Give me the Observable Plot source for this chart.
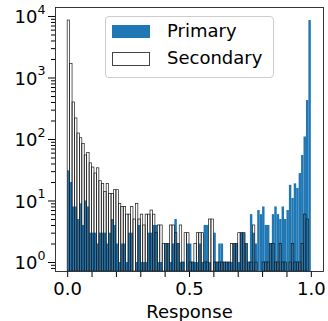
<!DOCTYPE html>
<html>
<head>
<meta charset="utf-8">
<script src="https://cdn.jsdelivr.net/npm/d3@7"></script>
<script src="https://cdn.jsdelivr.net/npm/@observablehq/plot@0.6"></script>
<style>
  html, body { margin: 0; padding: 0; background: #fff; }
  #wrap { position: relative; width: 328px; height: 321px; font-family: "DejaVu Sans", sans-serif; }
  #legend { position: absolute; left: 105px; top: 16px; width: 167px; height: 60px;
    border: 1px solid #cccccc; border-radius: 4px; background: rgba(255,255,255,0.85); }
  .item { position: absolute; left: 6px; height: 14px; font-size: 18px; }
  .patch { position: absolute; left: 0; width: 38px; height: 13px; box-sizing: border-box; }
  .lbl { position: absolute; left: 55px; top: -5px; white-space: nowrap; color: #000; }
</style>
</head>
<body>
<div id="wrap"></div>
<script>
// Histogram bins: 100 bins over [0, 1]
const binCount = 100;
const primaryCounts = [
  31, 20, 8, 8, 5, 9, 4, 10, 8, 3,
  3, 3, 2, 3, 3, 3, 2, 3, 5, 4,
  2, 1, 2, 2, 1, 3, 3, 0, 1, 4,
  1, 1, 1, 3, 3, 4, 4, 1, 1, 0,
  2, 2, 1, 2, 5, 2, 1, 1, 0, 2,
  2, 1, 1, 1, 2, 1, 4, 4, 1, 0,
  3, 1, 2, 2, 1, 1, 1, 1, 2, 2,
  1, 3, 3, 2, 1, 6, 3, 2, 7, 6,
  8, 4, 4, 2, 6, 8, 6, 5, 8, 5,
  7, 18, 11, 19, 16, 28, 55, 110, 430, 8600
];
const secondaryCounts = [
  8600, 1700, 400, 220, 125, 105, 85, 55, 60, 41,
  35, 28, 34, 21, 19, 14, 19, 13, 13, 15,
  15, 9, 8, 8, 6, 6, 8, 5, 9, 5,
  6, 4, 6, 6, 7, 6, 3, 4, 4, 2,
  2, 2, 4, 4, 3, 2, 4, 1, 3, 3,
  1, 1, 2, 3, 3, 3, 1, 1, 5, 5,
  1, 1, 1, 1, 1, 1, 1, 2, 2, 2,
  3, 3, 3, 2, 1, 1, 4, 1, 0, 0,
  1, 1, 1, 2, 2, 1, 1, 2, 1, 1,
  0, 1, 2, 1, 1, 1, 2, 6, 5, 0
];
const seriesNames = ["Primary", "Secondary"];
const xTickValues = [0, 0.1, 0.2, 0.3, 0.4, 0.5, 0.6, 0.7, 0.8, 0.9, 1.0];
const xTickLabels = {0: "0.0", 0.5: "0.5", 1: "1.0"};
const yDecades = [1, 10, 100, 1000, 10000];
const yExponents = ["0", "1", "2", "3", "4"];

const yMin = 0.714, yMax = 14000;
const toRows = (counts, series) => counts.map((c, i) => ({
  x1: i / binCount, x2: (i + 1) / binCount, count: c, series
})).filter(d => d.count > 0);
const primaryRows = toRows(primaryCounts, seriesNames[0]);
const secondaryRows = toRows(secondaryCounts, seriesNames[1]);

const minorTicks = [];
for (const d of [0.1, 1, 10, 100, 1000, 10000]) for (let k = 2; k <= 9; k++) {
  const v = d * k; if (v > yMin && v < yMax) minorTicks.push(v);
}
const decadeRows = yDecades.map((v, i) => ({v, e: yExponents[i]}));

const chart = Plot.plot({
  width: 328, height: 321,
  marginLeft: 55, marginRight: 5, marginTop: 7, marginBottom: 50,
  style: {fontFamily: "DejaVu Sans, sans-serif", fontSize: "18px", background: "#fff", overflow: "visible"},
  x: {domain: [-0.05, 1.05]},
  y: {type: "log", domain: [yMin, yMax]},
  marks: [
    Plot.rectY(primaryRows, {x1: "x1", x2: "x2", y1: yMin, y2: "count", fill: "#1f77b4", clip: true}),
    Plot.rectY(secondaryRows, {x1: "x1", x2: "x2", y1: yMin, y2: "count", fill: "none", stroke: "#1a1a1a", strokeWidth: 0.7, clip: true}),
    Plot.axisX({ticks: xTickValues, tickSize: 6, tickPadding: 5, tickFormat: d => xTickLabels[Math.round(d * 10) / 10] ?? "", label: null, fontSize: 18}),
    Plot.axisY({ticks: yDecades, tickSize: 7, tickFormat: () => "", label: null}),
    Plot.axisY({ticks: minorTicks, tickSize: 4, tickFormat: () => "", label: null}),
    Plot.text(decadeRows, {y: "v", text: () => "10", frameAnchor: "left", textAnchor: "end", dx: -18, dy: 1, fontSize: 18}),
    Plot.text(decadeRows, {y: "v", text: "e", frameAnchor: "left", textAnchor: "start", dx: -18, dy: -7, fontSize: 12.6}),
    Plot.text(["Response"], {text: d => d, frameAnchor: "bottom", lineAnchor: "bottom", dy: 46, fontSize: 18}),
    Plot.frame({stroke: "#222", strokeWidth: 0.9})
  ]
});

const wrap = document.getElementById("wrap");
wrap.appendChild(chart);
const legend = document.createElement("div");
legend.id = "legend";
legend.innerHTML = `
  <div class="item" style="top:8px"><div class="patch" style="background:#1f77b4"></div><span class="lbl">${seriesNames[0]}</span></div>
  <div class="item" style="top:35px"><div class="patch" style="background:#fff;border:1px solid #444;height:14px"></div><span class="lbl">${seriesNames[1]}</span></div>`;
wrap.appendChild(legend);
</script>
</body>
</html>
